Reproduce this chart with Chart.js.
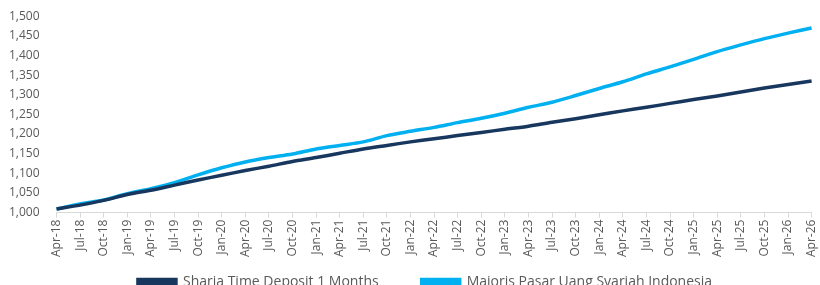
<!DOCTYPE html>
<html>
<head>
<meta charset="utf-8">
<script src="https://cdn.jsdelivr.net/npm/chart.js@4"></script>
<style>
  html, body { margin: 0; padding: 0; overflow: hidden; background: #fff; }
  #wrap { width: 828px; height: 297px; }
</style>
</head>
<body>
<div id="wrap"><canvas id="myChart"></canvas></div>
<script>
const labels = ["Apr-18", "Jul-18", "Oct-18", "Jan-19", "Apr-19", "Jul-19", "Oct-19", "Jan-20",
  "Apr-20", "Jul-20", "Oct-20", "Jan-21", "Apr-21", "Jul-21", "Oct-21", "Jan-22",
  "Apr-22", "Jul-22", "Oct-22", "Jan-23", "Apr-23", "Jul-23", "Oct-23", "Jan-24",
  "Apr-24", "Jul-24", "Oct-24", "Jan-25", "Apr-25", "Jul-25", "Oct-25", "Jan-26", "Apr-26"];

const shariaDeposit = [1009, 1019, 1031, 1046, 1057, 1070, 1083, 1095,
  1107, 1118, 1130, 1140, 1151, 1162, 1171, 1180,
  1188, 1196, 1204, 1212, 1220, 1230, 1239, 1249,
  1259, 1268, 1278, 1288, 1297, 1307, 1317, 1326, 1335];

const majoris = [1009, 1022, 1032, 1048, 1061, 1076, 1096, 1114,
  1129, 1140, 1149, 1162, 1171, 1180, 1196, 1207,
  1217, 1229, 1240, 1253, 1268, 1281, 1298, 1316,
  1333, 1353, 1371, 1390, 1410, 1427, 1443, 1457, 1470];

const yTicks = { min: 1000, max: 1500, step: 50 };

const font = "'Open Sans', 'Liberation Sans', sans-serif";

// wide gap between the two legend entries, but a short legend box
const legendGap = 43, legendBoxH = 38;
const legendSpacing = {
  id: "legendSpacing",
  afterUpdate(chart) {
    const lg = chart.legend;
    if (!lg || lg._patched) return;
    lg._patched = true;
    const fit = lg.fit;
    lg.fit = function () {
      fit.call(this);
      this.height = legendBoxH;
    };
    chart.update();
  },
  afterLayout(chart) {
    const lg = chart.legend;
    if (!lg || !lg._patched) return;
    lg.top = lg.bottom - legendGap - 22;
    lg.left += 11; lg.right += 11;
  }
};

new Chart("myChart", {
  type: "line",
  data: {
    labels: labels,
    datasets: [
      {
        label: "Sharia Time Deposit 1 Months",
        data: shariaDeposit,
        borderColor: "#17375E",
        backgroundColor: "#17375E",
        borderWidth: 3.5,
        pointRadius: 0,
        tension: 0.3
      },
      {
        label: "Majoris Pasar Uang Syariah Indonesia",
        data: majoris,
        borderColor: "#00B0F0",
        backgroundColor: "#00B0F0",
        borderWidth: 3.5,
        pointRadius: 0,
        tension: 0.3
      }
    ]
  },
  options: {
    responsive: true,
    maintainAspectRatio: false,
    animation: false,
    layout: { padding: { top: 12, right: 0, left: 0, bottom: 0 } },
    plugins: {
      tooltip: { enabled: false },
      legend: {
        position: "bottom",
        labels: {
          boxWidth: 38,
          boxHeight: 5,
          padding: legendGap,
          color: "#595959",
          font: { family: font, size: 14 }
        }
      }
    },
    scales: {
      x: {
        offset: false,
        grid: { drawOnChartArea: false, color: "#d9d9d9", tickLength: 5 },
        border: { color: "#d9d9d9" },
        ticks: {
          autoSkip: false,
          minRotation: 90,
          maxRotation: 90,
          color: "#595959",
          padding: 2,
          font: { family: font, size: 12 }
        }
      },
      y: {
        min: yTicks.min,
        max: yTicks.max,
        grid: { display: false },
        border: { display: false },
        ticks: {
          stepSize: yTicks.step,
          padding: 9,
          color: "#595959",
          font: { family: font, size: 12 },
          callback: v => v.toLocaleString("en-US")
        }
      }
    }
  },
  plugins: [legendSpacing]
});
</script>
</body>
</html>
